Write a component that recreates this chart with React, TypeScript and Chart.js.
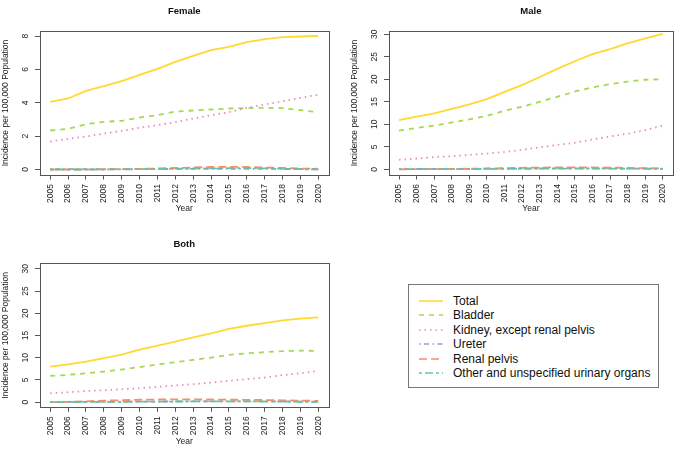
import React, { useEffect, useRef } from "react";
import { Chart, registerables } from "chart.js";
Chart.register(...registerables);

const years = [2005, 2006, 2007, 2008, 2009, 2010, 2011, 2012, 2013, 2014, 2015, 2016, 2017, 2018, 2019, 2020];

const seriesNames = ["Total", "Bladder", "Kidney, except renal pelvis", "Ureter", "Renal pelvis", "Other and unspecified urinary organs"];
const seriesColors = ["#FFD92F", "#A6D854", "#E78AC3", "#8DA0CB", "#FC8D62", "#66C2A5"];
const seriesDashes: number[][] = [[], [5, 5], [1.5, 4], [1.5, 3.5, 5, 3.5], [8, 4], [3, 3, 8, 3]];

const femaleTotal = [4.06, 4.26, 4.72, 5.0, 5.3, 5.68, 6.04, 6.46, 6.82, 7.16, 7.36, 7.64, 7.82, 7.94, 7.98, 8.02];
const femaleBladder = [2.34, 2.44, 2.72, 2.86, 2.92, 3.12, 3.26, 3.48, 3.54, 3.6, 3.66, 3.68, 3.7, 3.68, 3.56, 3.44];
const femaleKidney = [1.68, 1.84, 1.98, 2.16, 2.32, 2.5, 2.66, 2.84, 3.06, 3.26, 3.44, 3.7, 3.9, 4.1, 4.3, 4.48];
const femaleUreter = [0.02, 0.02, 0.02, 0.02, 0.02, 0.03, 0.03, 0.03, 0.04, 0.04, 0.04, 0.04, 0.04, 0.03, 0.03, 0.03];
const femaleRenal = [0.0, 0.0, 0.0, 0.01, 0.02, 0.04, 0.06, 0.09, 0.12, 0.15, 0.16, 0.15, 0.12, 0.09, 0.06, 0.04];
const femaleOther = [0.0, 0.0, 0.0, 0.0, 0.01, 0.02, 0.03, 0.05, 0.06, 0.07, 0.08, 0.08, 0.07, 0.05, 0.02, 0.0];

const maleTotal = [10.9, 11.7, 12.4, 13.4, 14.4, 15.6, 17.2, 18.7, 20.5, 22.3, 24.0, 25.6, 26.7, 28.0, 29.1, 30.1];
const maleBladder = [8.6, 9.2, 9.7, 10.4, 11.1, 11.9, 13.0, 13.9, 15.0, 16.1, 17.3, 18.2, 18.9, 19.5, 19.9, 20.0];
const maleKidney = [2.1, 2.4, 2.7, 2.9, 3.2, 3.5, 3.85, 4.3, 4.9, 5.4, 5.9, 6.6, 7.3, 7.9, 8.7, 9.7];
const maleUreter = [0.05, 0.06, 0.07, 0.08, 0.1, 0.12, 0.14, 0.16, 0.18, 0.2, 0.2, 0.2, 0.18, 0.16, 0.14, 0.12];
const maleRenal = [0.0, 0.02, 0.05, 0.08, 0.12, 0.18, 0.25, 0.32, 0.38, 0.42, 0.42, 0.4, 0.35, 0.3, 0.25, 0.2];
const maleOther = [0.02, 0.03, 0.04, 0.05, 0.06, 0.08, 0.1, 0.12, 0.14, 0.16, 0.17, 0.17, 0.16, 0.14, 0.12, 0.1];

const bothTotal = [8.0, 8.5, 9.15, 9.9, 10.7, 11.8, 12.75, 13.65, 14.6, 15.5, 16.5, 17.2, 17.8, 18.4, 18.8, 19.1];
const bothBladder = [5.9, 6.15, 6.5, 6.9, 7.35, 7.9, 8.5, 9.0, 9.5, 10.05, 10.65, 11.0, 11.25, 11.5, 11.6, 11.55];
const bothKidney = [2.0, 2.25, 2.5, 2.7, 2.9, 3.15, 3.45, 3.75, 4.05, 4.4, 4.8, 5.2, 5.55, 6.1, 6.5, 7.05];
const bothUreter = [0.05, 0.06, 0.08, 0.1, 0.12, 0.14, 0.15, 0.16, 0.17, 0.18, 0.18, 0.18, 0.17, 0.16, 0.14, 0.12];
const bothRenal = [0.0, 0.08, 0.2, 0.35, 0.45, 0.55, 0.6, 0.62, 0.62, 0.6, 0.57, 0.53, 0.48, 0.42, 0.36, 0.3];
const bothOther = [0.02, 0.03, 0.05, 0.07, 0.09, 0.11, 0.13, 0.15, 0.17, 0.18, 0.18, 0.17, 0.15, 0.13, 0.1, 0.08];

const femaleYTicks = [0, 2, 4, 6, 8];
const maleYTicks = [0, 5, 10, 15, 20, 25, 30];
const bothYTicks = [0, 5, 10, 15, 20, 25, 30];

const yTitle = "Incidence per 100,000 Population";
const xTitle = "Year";
const FONT = "'Liberation Sans', Arial, Helvetica, sans-serif";

// Draws the R-style box, the panel title and the y tick labels (rotated, parallel to the axis)
const panelDecor = {
  id: "panelDecor",
  afterDraw(chart: any, _args: any, opts: any) {
    const { ctx, chartArea: a } = chart;
    ctx.save();
    ctx.strokeStyle = "#555";
    ctx.lineWidth = 1;
    const l = Math.round(a.left) + 0.5;
    const t = Math.round(a.top) + 0.5;
    const r = Math.round(a.right) + 0.5;
    const b = Math.round(a.bottom) + 0.5;
    ctx.strokeRect(l, t, r - l, b - t);
    ctx.fillStyle = "#111";
    ctx.font = `bold 9.5px ${FONT}`;
    ctx.textAlign = "center";
    ctx.textBaseline = "middle";
    ctx.fillText(opts.text, (a.left + a.right) / 2, a.top - 19.3);
    const ys = chart.scales.y;
    ctx.fillStyle = "#222";
    ctx.font = `8.5px ${FONT}`;
    for (const tk of ys.ticks) {
      const py = ys.getPixelForValue(tk.value);
      ctx.save();
      ctx.translate(a.left - 14, py);
      ctx.rotate(-Math.PI / 2);
      ctx.fillText(String(tk.value), 0, 0);
      ctx.restore();
    }
    ctx.restore();
  },
};

type PanelProps = {
  title: string;
  series: number[][];
  yMin: number;
  yMax: number;
  yTicks: number[];
  left: number;
  top: number;
  width: number;
  height: number;
  padRight: number;
  padTop: number;
};

function Panel(p: PanelProps) {
  const ref = useRef<HTMLCanvasElement>(null);
  useEffect(() => {
    const datasets = p.series.map((vals, i) => ({
      label: seriesNames[i],
      data: years.map((y, j) => ({ x: y, y: vals[j] })),
      borderColor: seriesColors[i],
      backgroundColor: seriesColors[i],
      borderDash: seriesDashes[i],
      borderWidth: 1.8,
      pointRadius: 0,
      tension: 0,
      fill: false,
      order: p.series.length - i,
    }));
    const chart = new Chart(ref.current!, {
      type: "line",
      data: { datasets },
      plugins: [panelDecor],
      options: {
        animation: false,
        responsive: false,
        devicePixelRatio: 1,
        layout: { padding: { left: 0, right: p.padRight, top: p.padTop, bottom: p.height - p.padTop - 144 - 40 } },
        plugins: {
          legend: { display: false },
          tooltip: { enabled: false },
          panelDecor: { text: p.title },
        } as any,
        scales: {
          x: {
            type: "linear",
            min: 2004.4,
            max: 2020.6,
            afterBuildTicks: (s: any) => {
              s.ticks = years.map((v) => ({ value: v }));
            },
            afterFit: (s: any) => {
              s.height = 40;
            },
            grid: { display: true, drawOnChartArea: false, drawTicks: true, tickLength: 4.5, color: "#555" },
            border: { display: false },
            ticks: {
              autoSkip: false,
              minRotation: 90,
              maxRotation: 90,
              padding: 4.5,
              color: "#222",
              font: { family: FONT, size: 8.5 },
              callback: (v: any) => String(v),
            },
            title: { display: true, text: xTitle, color: "#222", font: { family: FONT, size: 8.5 }, padding: { top: 0, bottom: 1 } },
          },
          y: {
            type: "linear",
            min: p.yMin,
            max: p.yMax,
            afterBuildTicks: (s: any) => {
              s.ticks = p.yTicks.map((v) => ({ value: v }));
            },
            afterFit: (s: any) => {
              s.width = 39.5;
            },
            grid: { display: true, drawOnChartArea: false, drawTicks: true, tickLength: 4.5, color: "#555" },
            border: { display: false },
            ticks: {
              display: false,
              callback: (v: any) => String(v),
            },
            title: { display: true, text: yTitle, color: "#222", font: { family: FONT, size: 8.5 }, padding: { top: 1, bottom: 0 } },
          },
        },
      } as any,
    });
    return () => chart.destroy();
  }, []);
  return (
    <canvas
      ref={ref}
      width={p.width}
      height={p.height}
      style={{ position: "absolute", left: p.left, top: p.top, width: p.width, height: p.height }}
    />
  );
}

function LegendBox() {
  return (
    <div
      style={{
        position: "absolute",
        left: 408,
        top: 284,
        width: 249,
        height: 102,
        border: "1px solid #777",
        fontFamily: FONT,
        fontSize: 12,
        color: "#111",
      }}
    >
      {seriesNames.map((name, i) => (
        <div key={name} style={{ position: "absolute", left: 0, top: 16 + i * 14.4 - 8, height: 16, width: 249 }}>
          <svg width={26} height={16} style={{ position: "absolute", left: 10, top: 0 }}>
            <line
              x1={0}
              y1={8}
              x2={24}
              y2={8}
              stroke={seriesColors[i]}
              strokeWidth={1.5}
              strokeDasharray={seriesDashes[i].length ? seriesDashes[i].join(" ") : undefined}
            />
          </svg>
          <span style={{ position: "absolute", left: 44, top: 0, lineHeight: "16px", whiteSpace: "nowrap" }}>{name}</span>
        </div>
      ))}
    </div>
  );
}

export default function App() {
  return (
    <div style={{ position: "absolute", left: 0, top: 0, width: 685, height: 452, background: "#fff", overflow: "hidden" }}>
      <Panel
        title="Female"
        series={[femaleTotal, femaleBladder, femaleKidney, femaleUreter, femaleRenal, femaleOther]}
        yMin={-0.33}
        yMax={8.31}
        yTicks={femaleYTicks}
        left={0}
        top={0}
        width={340}
        height={220}
        padRight={11}
        padTop={31}
      />
      <Panel
        title="Male"
        series={[maleTotal, maleBladder, maleKidney, maleUreter, maleRenal, maleOther]}
        yMin={-1.27}
        yMax={30.73}
        yTicks={maleYTicks}
        left={349}
        top={0}
        width={336}
        height={220}
        padRight={11.7}
        padTop={31}
      />
      <Panel
        title="Both"
        series={[bothTotal, bothBladder, bothKidney, bothUreter, bothRenal, bothOther]}
        yMin={-1.15}
        yMax={31.25}
        yTicks={bothYTicks}
        left={0}
        top={232}
        width={340}
        height={220}
        padRight={11}
        padTop={31.3}
      />
      <LegendBox />
    </div>
  );
}
